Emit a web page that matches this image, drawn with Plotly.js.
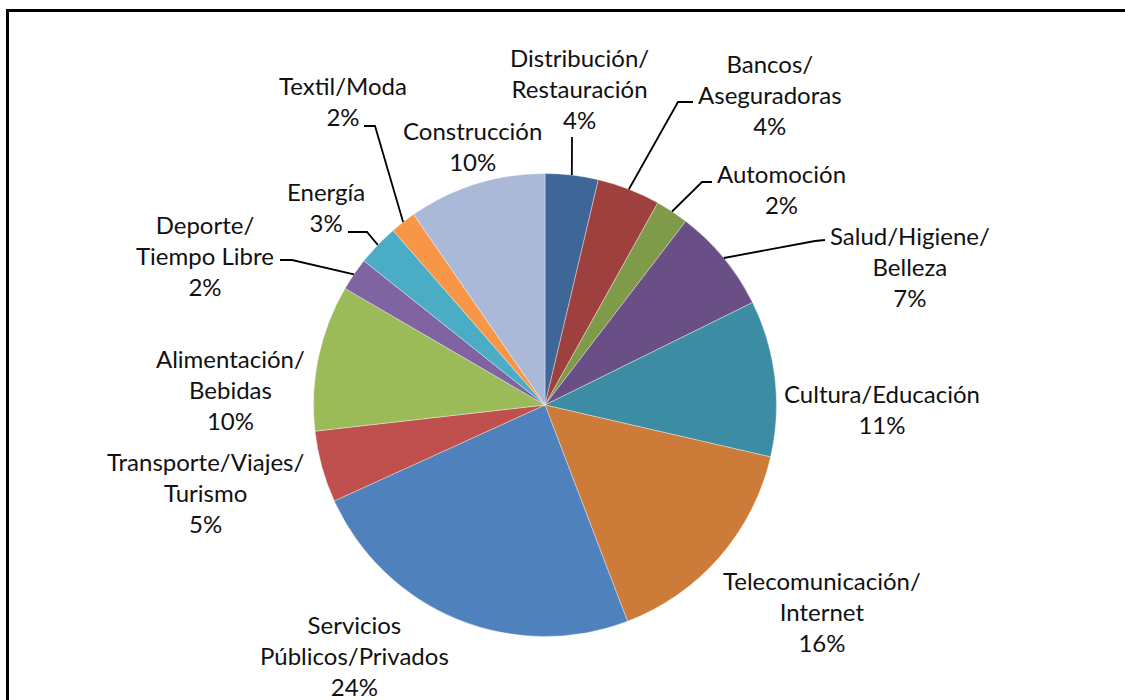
<!DOCTYPE html>
<html>
<head>
<meta charset="utf-8">
<script src="https://cdn.plot.ly/plotly-3.0.1.min.js"></script>
<style>html,body{margin:0;padding:0;background:#fff;}#chart{width:1125px;height:700px;}</style>
</head>
<body>
<div id="chart"></div>
<script>
// ---- data ----
const categories = [
  "Distribución/Restauración", "Bancos/Aseguradoras", "Automoción",
  "Salud/Higiene/Belleza", "Cultura/Educación", "Telecomunicación/Internet",
  "Servicios Públicos/Privados", "Transporte/Viajes/Turismo", "Alimentación/Bebidas",
  "Deporte/Tiempo Libre", "Energía", "Textil/Moda", "Construcción"
];
const labelText = [
  "Distribución/<br>Restauración", "Bancos/<br>Aseguradoras", "Automoción",
  "Salud/Higiene/<br>Belleza", "Cultura/Educación", "Telecomunicación/<br>Internet",
  "Servicios<br>Públicos/Privados", "Transporte/Viajes/<br>Turismo", "Alimentación/<br>Bebidas",
  "Deporte/<br>Tiempo Libre", "Energía", "Textil/Moda", "Construcción"
];
const shares = [3.7, 4.4, 2.3, 7.3, 10.9, 15.6, 24.0, 5.0, 10.2, 2.3, 2.9, 1.8, 9.6];

// ---- style ----
const colors = ["#3E6797", "#9E413E", "#7F9A48", "#6A4F87", "#3C8DA3", "#CD7B38",
  "#4F81BD", "#C0504D", "#9BBB59", "#8064A2", "#4BACC6", "#F79646", "#AAB9D7"];
const W = 1125, H = 700;
const CX = 545, CY = 405, R = 231.5;
// label block centres (pixels)
const labelPos = [
  [579, 89], [770, 95], [781, 189], [910, 266], [882, 409], [822, 611],
  [354, 655], [206, 492], [230, 389], [205, 255], [326, 207], [343, 101], [472, 146]
];
// leader line elbow/end points (pixels); null = no leader
const leaders = [
  [[572, 137]], [[678, 102], [693, 102]], [[702, 182], [712, 182]],
  [[815, 241], [825, 240]], null, null, null, null, null,
  [[292, 260], [280, 260]], [[367, 232], [348, 232]], [[375, 126], [364, 126]], null
];
const FONT = "Lato, 'Open Sans', sans-serif";

const px = x => x / W;
const py = y => 1 - y / H;

const total = shares.reduce((a, b) => a + b, 0);
let cum = 0;
const annotations = [];
const shapes = [];
shares.forEach((v, i) => {
  const mid = (cum + v / 2) / total * 2 * Math.PI;
  cum += v;
  const pct = Math.round(v / total * 100) + "%";
  annotations.push({
    xref: "paper", yref: "paper", x: px(labelPos[i][0]), y: py(labelPos[i][1]),
    xanchor: "center", yanchor: "middle", showarrow: false, align: "center",
    text: labelText[i] + "<br>" + pct,
    font: {family: FONT, size: 24, color: "#111"}
  });
  if (leaders[i]) {
    const sx = CX + R * Math.sin(mid), sy = CY - R * Math.cos(mid);
    let path = "M" + px(sx) + "," + py(sy);
    leaders[i].forEach(p => { path += " L" + px(p[0]) + "," + py(p[1]); });
    shapes.push({type: "path", xref: "paper", yref: "paper", path: path,
      line: {color: "#000", width: 1.8}});
  }
});
// outer frame
shapes.push({type: "rect", xref: "paper", yref: "paper",
  x0: px(7.5), y0: py(10.5), x1: px(1135), y1: py(715),
  line: {color: "#000", width: 3}, fillcolor: "rgba(0,0,0,0)"});

const trace = {
  type: "pie", labels: categories, values: shares, sort: false,
  direction: "clockwise", rotation: 0, textinfo: "none", hoverinfo: "label+percent",
  marker: {colors: colors, line: {color: "rgba(255,255,255,0.6)", width: 0.6}},
  domain: {x: [(CX - R) / W, (CX + R) / W], y: [1 - (CY + R) / H, 1 - (CY - R) / H]},
  showlegend: false
};

Plotly.newPlot("chart", [trace], {
  width: W, height: H, margin: {l: 0, r: 0, t: 0, b: 0},
  paper_bgcolor: "#fff", showlegend: false,
  annotations: annotations, shapes: shapes,
  font: {family: FONT}
}, {displayModeBar: false, staticPlot: true});
</script>
</body>
</html>
